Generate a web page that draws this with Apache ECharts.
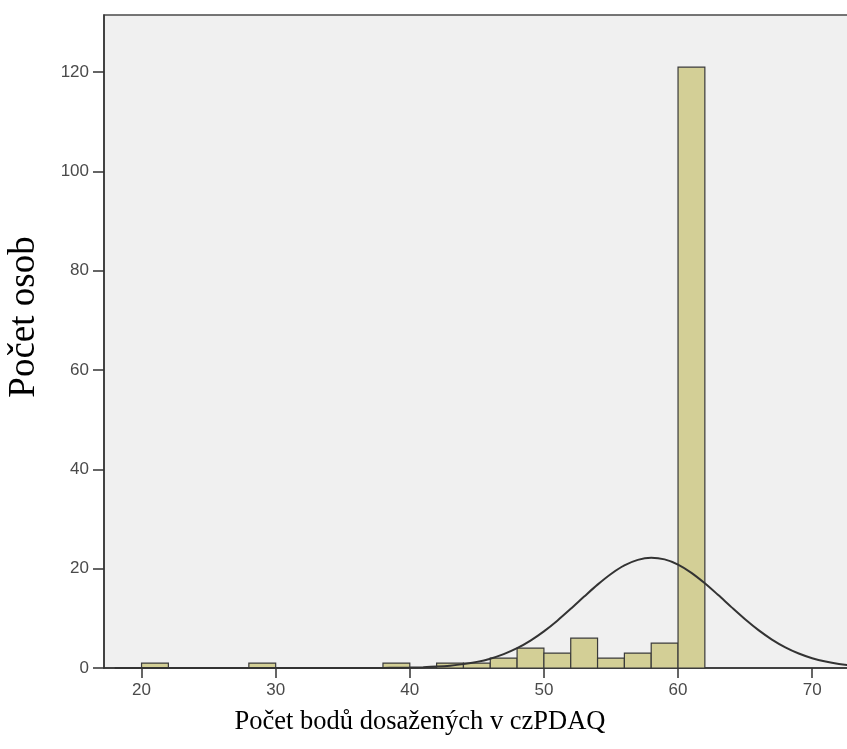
<!DOCTYPE html>
<html>
<head>
<meta charset="utf-8">
<script src="https://cdn.jsdelivr.net/npm/echarts@6/dist/echarts.min.js"></script>
<style>
  html, body { margin: 0; padding: 0; background: #fff; }
  #chart { width: 847px; height: 749px; }
</style>
</head>
<body>
<div id="chart"></div>
<script>
// histogram bins (left edge, width 2) and counts
var binStart = [20, 28, 38, 42, 44, 46, 48, 50, 52, 54, 56, 58, 60];
var binCount = [1, 1, 1, 1, 1, 2, 4, 3, 6, 2, 3, 5, 121];
var binWidth = 2;

// normal curve
var curveX = [18, 30, 36, 37, 38, 39, 40, 41, 42, 43, 44, 45, 46, 47, 48, 49, 50, 51, 52, 53, 54, 55,
  56, 57, 58, 59, 60, 61, 62, 63, 64, 65, 66, 67, 68, 69, 70, 71, 72, 73, 74];
var curveY = [0, 0, 0.01, 0.01, 0.02, 0.05, 0.09, 0.16, 0.28, 0.47, 0.78, 1.23, 1.88, 2.79, 3.99, 5.52,
  7.38, 9.53, 11.91, 14.38, 16.79, 18.94, 20.66, 21.78, 22.2, 21.87, 20.83, 19.17, 17.06, 14.68,
  12.21, 9.81, 7.62, 5.73, 4.16, 2.92, 1.98, 1.3, 0.82, 0.5, 0.3];

var xTicks = [20, 30, 40, 50, 60, 70];
var yTicks = [0, 20, 40, 60, 80, 100, 120];

var chart = echarts.init(document.getElementById('chart'));

var barData = binStart.map(function (s, i) { return [s, binCount[i]]; });
var lineData = curveX.map(function (x, i) { return [x, curveY[i]]; });

var option = {
  animation: false,
  grid: {
    left: 104,
    top: 15,
    width: 760,
    height: 653,
    outerBoundsMode: 'none',
    containLabel: false,
    show: true,
    backgroundColor: '#f0f0f0',
    borderColor: '#4a4a4a',
    borderWidth: 1.5
  },
  xAxis: {
    type: 'value',
    min: 17.2,
    max: 17.2 + 760 / 13.412,
    axisLine: { lineStyle: { color: '#333', width: 1.5 } },
    axisTick: { customValues: xTicks, length: 10, lineStyle: { color: '#333', width: 1.5 } },
    axisLabel: { customValues: xTicks, margin: 14, fontFamily: 'Liberation Sans', fontSize: 17, color: '#4a4a4a' },
    splitLine: { show: false }
  },
  yAxis: {
    type: 'value',
    min: 0,
    max: 131.5,
    axisLine: { show: true, lineStyle: { color: '#333', width: 1.5 } },
    axisTick: { show: true, customValues: yTicks, length: 11, lineStyle: { color: '#333', width: 1.5 } },
    axisLabel: { customValues: yTicks, margin: 15, fontFamily: 'Liberation Sans', fontSize: 17, color: '#4a4a4a' },
    splitLine: { show: false }
  },
  graphic: [
    {
      type: 'text',
      x: 24,
      y: 317,
      rotation: Math.PI / 2,
      style: {
        text: 'Počet osob',
        fontFamily: 'Liberation Serif',
        fontSize: 37,
        fill: '#000',
        textAlign: 'center',
        textVerticalAlign: 'middle'
      }
    },
    {
      type: 'text',
      x: 420,
      y: 722,
      style: {
        text: 'Počet bodů dosažených v czPDAQ',
        fontFamily: 'Liberation Serif',
        fontSize: 26.5,
        fill: '#000',
        textAlign: 'center',
        textVerticalAlign: 'middle'
      }
    }
  ],
  series: [
    {
      type: 'custom',
      renderItem: function (params, api) {
        var start = api.value(0);
        var p0 = api.coord([start, api.value(1)]);
        var p1 = api.coord([start + binWidth, 0]);
        return {
          type: 'rect',
          shape: { x: p0[0], y: p0[1], width: p1[0] - p0[0], height: p1[1] - p0[1] },
          style: { fill: '#d3cf96', stroke: '#3a3a3a', lineWidth: 1.2 }
        };
      },
      encode: { x: 0, y: 1 },
      data: barData,
      z: 2
    },
    {
      type: 'line',
      data: lineData,
      smooth: 0.3,
      showSymbol: false,
      lineStyle: { color: '#333', width: 2 },
      z: 3
    }
  ]
};

chart.setOption(option);
</script>
</body>
</html>
